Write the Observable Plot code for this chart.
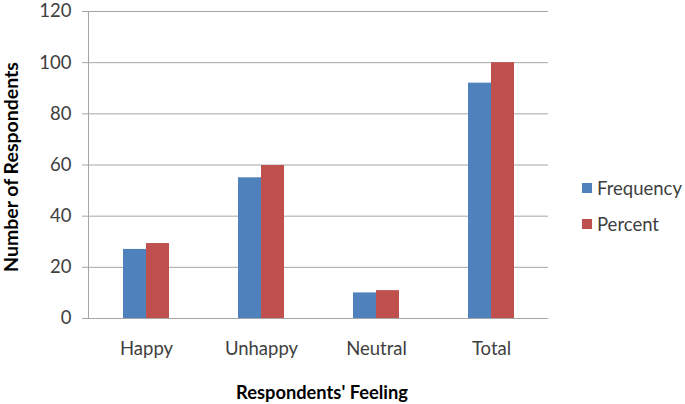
<!DOCTYPE html>
<html>
<head>
<meta charset="utf-8">
<script src="https://cdn.jsdelivr.net/npm/d3@7"></script>
<script src="https://cdn.jsdelivr.net/npm/@observablehq/plot@0.6"></script>
<style>
  html, body { margin: 0; padding: 0; background: #fff; }
  #wrap { position: relative; width: 685px; height: 404px; font-family: Lato, "Open Sans", sans-serif; }
  #legend { position: absolute; left: 582px; top: 170px; font-size: 18.5px; color: #404040; }
  .item { display: flex; align-items: center; height: 36px; }
  .sw { width: 10px; height: 10px; margin-right: 5px; }
  .title { position: absolute; white-space: nowrap; font-weight: bold; color: #000; line-height: 1; }
  #ytitle { left: 11px; top: 167px; transform: translate(-50%, -50%) rotate(-90deg); }
  #xtitle { left: 322px; top: 392px; transform: translate(-50%, -50%); }
</style>
</head>
<body>
<div id="wrap"></div>
<script>
const categories = ["Happy", "Unhappy", "Neutral", "Total"];
const seriesNames = ["Frequency", "Percent"];
const frequency = [27, 55, 10, 92];
const percent = [29.3, 59.8, 10.9, 100];
const yTicks = [0, 20, 40, 60, 80, 100, 120];
const colors = ["#4F81BD", "#C0504D"];
const yTitle = "Number of Respondents";
const xTitle = "Respondents' Feeling";

const data = categories.flatMap((c, i) => [
  {category: c, series: seriesNames[0], value: frequency[i]},
  {category: c, series: seriesNames[1], value: percent[i]}
]);

const W = 685, H = 404;
const mL = 88, mR = 137, mT = 11, mB = 86;
const step = (W - mL - mR) / categories.length;
const padInner = 0.6;
const half = step * (1 - padInner) / 2;

const chart = Plot.plot({
  width: W, height: H,
  marginLeft: mL, marginRight: mR, marginTop: mT, marginBottom: mB,
  style: {fontFamily: "Lato, 'Open Sans', sans-serif", fontSize: "18.5px", color: "#404040", background: "white"},
  x: {domain: categories, paddingInner: padInner, paddingOuter: padInner / 2},
  y: {domain: [0, 120]},
  color: {domain: seriesNames, range: colors},
  marks: [
    Plot.gridY(yTicks, {stroke: "#a6a6a6", strokeOpacity: 1, strokeWidth: 1}),
    Plot.axisY(yTicks, {tickSize: 6, tickPadding: 11, stroke: "#a6a6a6", fill: "#404040", fontSize: 18.5, label: null}),
    Plot.axisX({tickSize: 0, tickPadding: 23, fill: "#404040", fontSize: 18.5, label: null}),
    Plot.barY(data.filter(d => d.series === seriesNames[0]), {x: "category", y: "value", fill: "series", insetLeft: 0, insetRight: half}),
    Plot.barY(data.filter(d => d.series === seriesNames[1]), {x: "category", y: "value", fill: "series", insetLeft: half, insetRight: 0}),
    Plot.frame({anchor: "left", stroke: "#a6a6a6"}),
    Plot.ruleY([0], {stroke: "#a6a6a6"})
  ]
});

const wrap = document.getElementById("wrap");
wrap.appendChild(chart);

function addTitle(id, text, targetLength) {
  const el = document.createElement("div");
  el.id = id;
  el.className = "title";
  el.textContent = text;
  el.style.fontSize = "100px";
  wrap.appendChild(el);
  const w = el.offsetWidth;
  el.style.fontSize = (100 * targetLength / w) + "px";
}
addTitle("ytitle", yTitle, 210);
addTitle("xtitle", xTitle, 172);

const legend = document.createElement("div");
legend.id = "legend";
seriesNames.forEach((s, i) => {
  const item = document.createElement("div");
  item.className = "item";
  const sw = document.createElement("span");
  sw.className = "sw";
  sw.style.background = colors[i];
  const label = document.createElement("span");
  label.textContent = s;
  item.appendChild(sw);
  item.appendChild(label);
  legend.appendChild(item);
});
wrap.appendChild(legend);
</script>
</body>
</html>
